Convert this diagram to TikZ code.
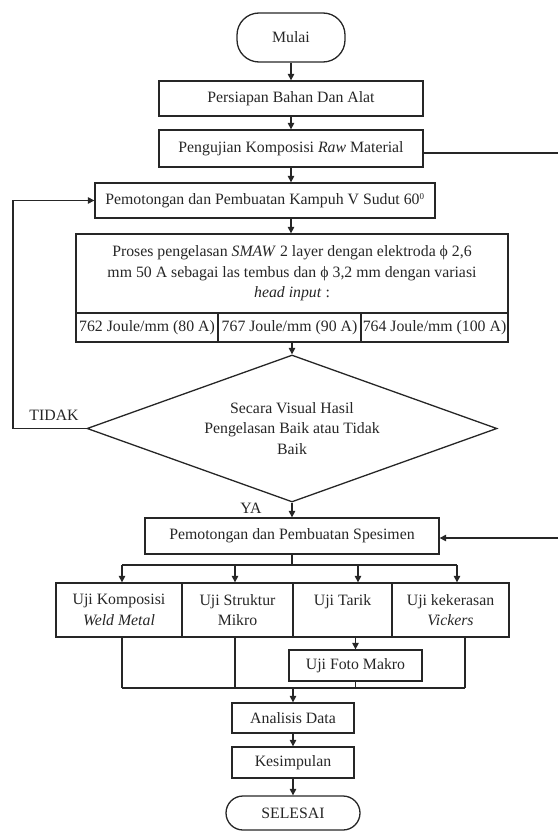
\documentclass[tikz,border=0pt]{standalone}
\usepackage{fontspec}
\setmainfont{Liberation Serif}
\usetikzlibrary{arrows.meta,shapes.geometric}
\begin{document}
\begin{tikzpicture}[x=1pt,y=-1pt,
  color=black!85, line width=1.2pt,
  every node/.style={font=\fontsize{15.8}{20.5}\selectfont},
  box/.style={draw, line width=1.3pt, rectangle, inner sep=0pt, align=center},
  term/.style={box, rounded corners=22pt},
  arr/.style={-{Triangle[length=6.5pt,width=6.5pt]}}]
\useasboundingbox (0,0) rectangle (558,832);

\node[term, minimum width=108pt, minimum height=49pt] (mulai) at (291,37.5) {Mulai};
\node[box, minimum width=264pt, minimum height=35pt] (persiapan) at (291,98.5) {Persiapan Bahan Dan Alat};
\node[box, minimum width=264pt, minimum height=37pt] (uji) at (291,148.5) {Pengujian Komposisi \textit{Raw} Material};
\node[box, minimum width=340pt, minimum height=35pt] (kampuh) at (265,200.5) {Pemotongan dan Pembuatan Kampuh V Sudut 60\textsuperscript{\fontsize{9}{9}\selectfont 0}};
\node[box, minimum width=432pt, minimum height=79pt] (proses) at (292,273.5) {Proses pengelasan \textit{SMAW} 2 layer dengan elektroda ϕ 2,6\\ mm 50 A sebagai las tembus dan ϕ 3,2 mm dengan variasi\\ \textit{head input} :};
\node[box, minimum width=142pt, minimum height=29pt] (c1) at (147,327.5) {762 Joule/mm (80 A)};
\node[box, minimum width=143pt, minimum height=29pt] (c2) at (289.5,327.5) {767 Joule/mm (90 A)};
\node[box, minimum width=147pt, minimum height=29pt] (c3) at (434.5,327.5) {764 Joule/mm (100 A)};

\node[draw, diamond, shape aspect=2.79, minimum width=410pt, minimum height=147pt, inner sep=0pt, align=center, line width=1.3pt] (dia) at (292,428.5) {Secara Visual Hasil\\Pengelasan Baik atau Tidak\\Baik};
\node (tidak) at (54,415) {TIDAK};
\node (ya) at (251,508) {YA};

\node[box, minimum width=294pt, minimum height=36pt] (spes) at (292,536) {Pemotongan dan Pembuatan Spesimen};

\node[box, minimum width=126pt, minimum height=54pt] (t1) at (119,610) {Uji Komposisi\\\textit{Weld Metal}};
\node[box, minimum width=111pt, minimum height=54pt] (t2) at (237.5,610) {Uji Struktur\\Mikro};
\node[box, minimum width=99pt, minimum height=54pt] (t3) at (342.5,610) {Uji Tarik\\\phantom{X}};
\node[box, minimum width=117pt, minimum height=54pt] (t4) at (450.5,610) {Uji kekerasan\\\textit{Vickers}};

\node[box, minimum width=133pt, minimum height=31pt] (foto) at (355.5,665.5) {Uji Foto Makro};
\node[box, minimum width=122pt, minimum height=30pt] (ana) at (293,718) {Analisis Data};
\node[box, minimum width=122pt, minimum height=31pt] (kes) at (293,762.5) {Kesimpulan};
\node[term, minimum width=134pt, minimum height=34pt, rounded corners=17pt] (sel) at (293,813) {SELESAI};

% main flow
\draw[arr] (mulai) -- (persiapan);
\draw[arr] (persiapan) -- (uji);
\draw[arr] (uji.south) -- (uji.south |- kampuh.north);
\draw[arr] (kampuh.south -| uji.south) -- (uji.south |- proses.north);
\draw[arr] (c2.south -| dia.north) -- (dia.north);

% loop back
\coordinate (lp) at (13,0);
\draw[arr] (dia.west) -- (dia.west -| lp) |- (kampuh.west);

% right side stubs
\coordinate (rt) at (558,153);
\draw (uji.east |- rt) -- (rt);
\coordinate (rb) at (558,538);
\draw[arr] (rb) -- (spes.east |- rb);

\draw[arr] (dia.south) -- (dia.south |- spes.north);

% distribution bus
\coordinate (bl) at (122,565);
\coordinate (bm1) at (235,565);
\coordinate (bm2) at (358,565);
\coordinate (br) at (457,565);
\draw (spes.south) -- (spes.south |- bl);
\draw (bl) -- (br);
\draw[arr] (bl) -- (bl |- t1.north);
\draw[arr] (bm1) -- (bm1 |- t2.north);
\draw[arr] (bm2) -- (bm2 |- t3.north);
\draw[arr] (br) -- (br |- t4.north);

% collection bus
\coordinate (dl) at (122,688);
\coordinate (dr) at (465,688);
\draw (bl |- t1.south) -- (dl);
\draw (bm1 |- t2.south) -- (bm1 |- dl);
\draw[arr] (foto.north |- t3.south) -- (foto.north);
\draw (foto.south) -- (foto.south |- dl);
\draw (dr |- t4.south) -- (dr);
\draw (dl) -- (dr);
\draw[arr] (ana.north |- dl) -- (ana.north);
\draw[arr] (ana) -- (kes);
\draw[arr] (kes) -- (sel);
\end{tikzpicture}
\end{document}
